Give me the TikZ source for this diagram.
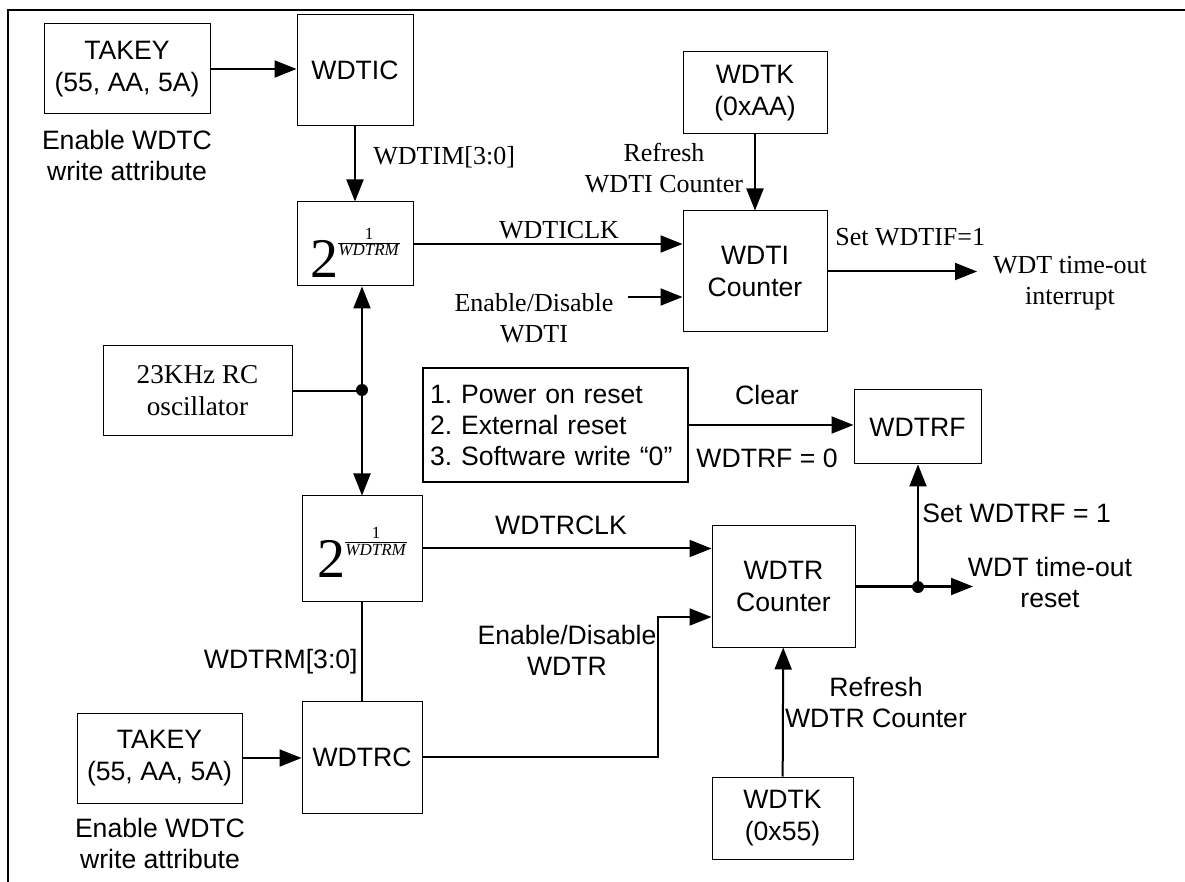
\documentclass[tikz,border=0pt]{standalone}
\usepackage{fontspec}
\setmainfont{Liberation Sans}
\newfontfamily\tnr{Liberation Serif}
\usetikzlibrary{arrows.meta,positioning,calc}
\newcommand{\divexp}{{\tnr\fontsize{28}{28}\selectfont 2}\raisebox{15pt}{\tnr\fontsize{8.5}{9}\selectfont\begin{tabular}{@{}c@{}}1\\[-1pt]\hline\textit{WDTRM}\end{tabular}}}

\begin{document}
\begin{tikzpicture}[x=0.5pt,y=-0.5pt,
  box/.style={draw, line width=0.5pt, inner sep=0pt, align=center, font=\fontsize{13.3}{16}\selectfont},
  lbl/.style={inner sep=0pt, align=center, font=\fontsize{13.3}{15.5}\selectfont},
  slbl/.style={lbl, font=\tnr\fontsize{13}{15.5}\selectfont},
  arr/.style={-{Triangle[length=11pt,width=8.5pt]}, line width=1pt},
  wire/.style={line width=1pt}
]
\useasboundingbox (0,0) rectangle (1185,882);
\draw[line width=1pt] (8,882) -- (8,10) -- (1185,10);

\node[box, minimum width=83pt, minimum height=45pt] (takeyA) at (127,69) {TAKEY\\(55, AA, 5A)};
\node[box, minimum width=58pt, minimum height=55.5pt] (wdtic) at (355,70.5) {WDTIC};
\node[box, minimum width=58pt, minimum height=42pt, text height=34pt, text depth=0pt] (divA) at (355,244) {\divexp};
\node[box, font=\tnr\fontsize{13.6}{16}\selectfont, minimum width=94.5pt, minimum height=45pt] (osc) at (197.5,391) {23KHz RC\\oscillator};
\node[box, minimum width=60pt, minimum height=52.5pt, text height=29pt, text depth=0pt] (divB) at (362,548.5) {\divexp};
\node[box, minimum width=60pt, minimum height=56pt] (wdtrc) at (362,757) {WDTRC};
\node[box, minimum width=82.5pt, minimum height=45pt] (takeyB) at (159.5,758) {TAKEY\\(55, AA, 5A)};
\node[box, minimum width=72pt, minimum height=41pt] (wdtkA) at (755,93) {WDTK\\(0xAA)};
\node[box, minimum width=72pt, minimum height=60.5pt] (cntI) at (755,271.5) {WDTI\\Counter};
\node[box, line width=1pt, align=left, inner xsep=3.5pt, text width=125.5pt, minimum height=57pt, font=\fontsize{13.3}{15.5}\selectfont] (rst) at (555.5,425) {1.\ Power on reset\\2.\ External reset\\3.\ Software write “0”};
\node[box, minimum width=63.5pt, minimum height=37pt] (wdtrf) at (917.5,427) {WDTRF};
\node[box, minimum width=71.5pt, minimum height=60.5pt] (cntR) at (783.5,586.5) {WDTR\\Counter};
\node[box, minimum width=70.5pt, minimum height=41pt] (wdtkB) at (782.5,818) {WDTK\\(0x55)};

\node[lbl] (enwA) at (127,155) {Enable WDTC\\write attribute};
\node[lbl] (enwB) at (160,843) {Enable WDTC\\write attribute};
\node[slbl, anchor=west] (wdtim) at (373,157) {WDTIM[3:0]};
\node[slbl] (clkI) at (559,230) {WDTICLK};
\node[slbl] (refI) at (664,168) {Refresh\\WDTI Counter};
\node[slbl, anchor=west] (setI) at (835,237) {Set WDTIF=1};
\node[slbl] (toI) at (1070,283) {WDT time-out\\interrupt};
\node[slbl] (enI) at (534,318) {Enable/Disable\\WDTI};
\node[lbl] (clr) at (767,395) {Clear};
\node[lbl] (rf0) at (767,458) {WDTRF = 0};
\node[lbl] (clkR) at (561,525) {WDTRCLK};
\node[lbl, anchor=west] (setR) at (922,513) {Set WDTRF = 1};
\node[lbl] (toR) at (1050,582) {WDT time-out\\reset};
\node[lbl] (enR) at (567,650) {Enable/Disable\\WDTR};
\node[lbl, anchor=east] (wdtrm) at (358,662) {WDTRM[3:0]};
\node[lbl] (refR) at (876,702) {Refresh\\WDTR Counter};

\coordinate (enIin) at (628,297);
\coordinate (dotL) at (362,390);
\coordinate (bendR) at (658,617);
\coordinate (dotR) at (918,587);
\coordinate (toIend) at (977,270);
\coordinate (toRend) at (973,587);

\draw[arr] (takeyA.east) -- (takeyA.east -| wdtic.west);
\draw[arr] (wdtic) -- (divA);
\draw[arr] (divA.east) -- (divA.east -| cntI.west);
\draw[arr] (enIin) -- (enIin -| cntI.west);
\draw[arr] (wdtkA) -- (cntI);
\draw[arr] (cntI.east) -- (cntI.east -| toIend);
\draw[wire] (osc.east) -- (osc.east -| dotL);
\fill (dotL) circle[radius=3pt];
\draw[arr] (dotL) -- (dotL |- divA.south);
\draw[arr] (dotL) -- (dotL |- divB.north);
\draw[wire] (divB) -- (wdtrc);
\draw[arr] (takeyB.east) -- (takeyB.east -| wdtrc.west);
\draw[arr] (divB.east) -- (divB.east -| cntR.west);
\draw[arr] (wdtrc.east) -| (bendR) -- (bendR -| cntR.west);
\draw[arr] (wdtkB) -- (cntR);
\draw[arr] (cntR.east) -- (cntR.east -| toRend);
\fill (dotR) circle[radius=3pt];
\draw[arr] (dotR) -- (dotR |- wdtrf.south);
\draw[arr] (rst.east) -- (rst.east -| wdtrf.west);
\end{tikzpicture}
\end{document}
